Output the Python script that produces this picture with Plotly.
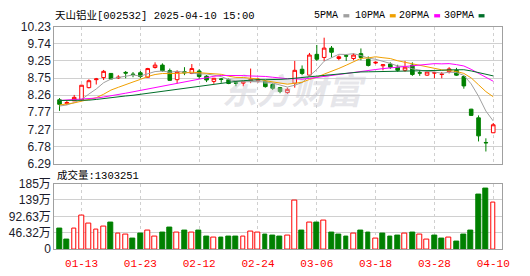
import plotly.graph_objects as go
import pandas as pd

# ---------------- data ----------------
dates = ['2025-01-08','2025-01-09','2025-01-10','2025-01-13','2025-01-14','2025-01-15','2025-01-16',
         '2025-01-17','2025-01-20','2025-01-21','2025-01-22','2025-01-23','2025-01-24','2025-01-27',
         '2025-02-05','2025-02-06','2025-02-07','2025-02-10','2025-02-11','2025-02-12','2025-02-13',
         '2025-02-14','2025-02-17','2025-02-18','2025-02-19','2025-02-20','2025-02-21','2025-02-24',
         '2025-02-25','2025-02-26','2025-02-27','2025-02-28','2025-03-03','2025-03-04','2025-03-05',
         '2025-03-06','2025-03-07','2025-03-10','2025-03-11','2025-03-12','2025-03-13','2025-03-14',
         '2025-03-17','2025-03-18','2025-03-19','2025-03-20','2025-03-21','2025-03-24','2025-03-25',
         '2025-03-26','2025-03-27','2025-03-28','2025-03-31','2025-04-01','2025-04-02','2025-04-03',
         '2025-04-07','2025-04-08','2025-04-09','2025-04-10']

opens  = [8.13, 8.02, 8.10, 8.13, 8.48, 8.71, 8.77, 8.89, 8.76, 8.92,
          8.87, 8.91, 8.78, 9.06, 9.13, 8.97, 8.71, 8.94, 8.89, 8.96,
          8.81, 8.66, 8.73, 8.71, 8.62, 8.61, 8.68, 8.68, 8.66, 8.57,
          8.48, 8.34, 8.61, 9.01, 8.84, 9.44, 9.35, 9.62, 9.32, 9.40,
          9.32, 9.46, 9.30, 9.19, 9.11, 9.16, 9.07, 8.98, 9.13, 8.91,
          8.84, 8.90, 8.86, 8.94, 8.98, 8.80, 7.86, 7.61, 6.90, 7.18]
highs  = [8.18, 8.10, 8.27, 8.56, 8.72, 8.76, 8.99, 8.90, 8.84, 8.96,
          8.93, 8.96, 9.05, 9.21, 9.18, 9.03, 8.98, 9.07, 9.16, 9.01,
          8.84, 8.76, 8.76, 8.74, 8.66, 8.66, 9.03, 8.76, 8.70, 8.61,
          8.50, 8.48, 9.25, 9.12, 9.48, 9.71, 9.92, 9.68, 9.41, 9.45,
          9.47, 9.61, 9.38, 9.24, 9.16, 9.21, 9.14, 9.25, 9.21, 8.99,
          8.95, 8.93, 8.93, 9.07, 9.05, 8.84, 7.87, 7.68, 7.02, 7.46]
lows   = [7.81, 7.98, 8.09, 8.11, 8.46, 8.57, 8.70, 8.72, 8.73, 8.75,
          8.78, 8.75, 8.77, 9.03, 8.94, 8.68, 8.60, 8.84, 8.87, 8.73,
          8.64, 8.59, 8.62, 8.58, 8.52, 8.52, 8.61, 8.62, 8.48, 8.41,
          8.32, 8.30, 8.48, 8.84, 8.80, 9.25, 9.25, 9.35, 9.27, 9.25,
          9.27, 9.27, 9.09, 9.16, 8.98, 9.02, 8.94, 8.94, 8.82, 8.82,
          8.82, 8.75, 8.75, 8.89, 8.82, 8.45, 7.67, 6.93, 6.64, 7.17]
closes = [8.00, 8.05, 8.20, 8.55, 8.68, 8.73, 8.95, 8.73, 8.78, 8.90,
          8.86, 8.80, 9.03, 9.13, 8.97, 8.69, 8.94, 8.91, 9.03, 8.80,
          8.70, 8.75, 8.72, 8.60, 8.61, 8.66, 8.72, 8.72, 8.51, 8.46,
          8.37, 8.43, 8.98, 8.89, 9.42, 9.30, 9.62, 9.50, 9.37, 9.39,
          9.42, 9.35, 9.12, 9.21, 9.14, 9.07, 8.98, 9.07, 8.86, 8.90,
          8.93, 8.91, 8.87, 9.02, 8.84, 8.53, 7.68, 7.09, 6.89, 7.41]
# volume in 万 (10k)
volumes = [57, 27, 59, 96, 72.5, 56, 63.6, 75, 45, 42,
           29.5, 45, 53, 34, 48, 62, 47.5, 51, 47.5, 51,
           35, 31.4, 32, 35, 35, 35, 50, 47.5, 40, 37.6,
           35, 39.4, 136, 53.7, 74, 75, 82, 48, 40, 35,
           44, 51, 48, 29.5, 43, 35, 37.6, 45, 48, 40,
           27, 37.6, 29.5, 32, 21.5, 40, 51, 153, 172, 130.3251]
vol_up = [0, 0, 1, 1, 1, 1, 1, 0, 1, 1,
          0, 0, 1, 1, 0, 0, 1, 0, 1, 0,
          0, 1, 0, 0, 0, 1, 1, 1, 0, 0,
          0, 1, 1, 0, 1, 0, 1, 0, 0, 0,
          1, 0, 0, 1, 0, 0, 0, 1, 0, 1,
          1, 0, 0, 1, 0, 0, 0, 0, 0, 1]

# moving-average values before a full window exists
ma5_lead = [7.95, 7.98, 8.05, 8.14]
ma10_lead = [7.98, 8.00, 8.04, 8.09, 8.14, 8.19, 8.29, 8.41, 8.49]
ma20_lead = [8.11, 8.12, 8.13, 8.14, 8.16, 8.18, 8.21, 8.24, 8.28, 8.32,
             8.36, 8.40, 8.44, 8.48, 8.52, 8.56, 8.60, 8.64, 8.69]
ma30_lead = [8.11, 8.11, 8.11, 8.11, 8.12, 8.14, 8.17, 8.20, 8.22, 8.24,
             8.26, 8.29, 8.32, 8.35, 8.38, 8.41, 8.44, 8.47, 8.49, 8.51,
             8.54, 8.58, 8.61, 8.635, 8.66, 8.68, 8.70, 8.71, 8.71]

price_ticks = [6.29, 6.78, 7.27, 7.77, 8.26, 8.75, 9.25, 9.74, 10.23]
vol_ticks = [0, 46.32, 92.63, 139, 185]
vol_tick_text = ['0', '46.32万', '92.63万', '139万', '185万']
date_ticks = ['01-13', '01-23', '02-12', '02-24', '03-06', '03-18', '03-28', '04-10']
ma_names = ['5PMA', '10PMA', '20PMA', '30PMA']
ma_colors = ['#a0a0a0', '#f0a000', '#ff00ff', '#006f2a']
title_text = '天山铝业[002532] 2025-04-10 15:00'

# ---------------- derived ----------------
x = list(range(len(dates)))
tick_idx = [i for i, d in enumerate(dates) if d[5:] in date_ticks]


def ma(n, lead):
    s = pd.Series(closes).rolling(n).mean().tolist()
    return lead + s[len(lead):]


mas = [ma(5, ma5_lead), ma(10, ma10_lead), ma(20, ma20_lead), ma(30, ma30_lead)]

W, H = 530, 276
px = lambda v: v / W
py = lambda v: 1 - v / H
RED, GREEN = '#ff0000', '#008000'

fig = go.Figure()

# watermark (behind the lines)
fig.add_trace(go.Scatter(
    x=[31.6], y=[8.27], mode='text', text=['东方财富'],
    textfont=dict(family='Noto Sans CJK SC', size=35, color='rgba(200,200,208,0.45)',
                  weight='bold', style='italic'),
    hoverinfo='skip', xaxis='x', yaxis='y'))

fig.add_trace(go.Candlestick(
    x=x, open=opens, high=highs, low=lows, close=closes,
    increasing=dict(line=dict(color=RED, width=1), fillcolor='#ffffff'),
    decreasing=dict(line=dict(color=GREEN, width=1), fillcolor=GREEN),
    whiskerwidth=0, xaxis='x', yaxis='y', hoverinfo='skip'))

for vals, col in zip(mas, ma_colors):
    fig.add_trace(go.Scatter(x=x, y=vals, mode='lines', line=dict(color=col, width=1),
                             xaxis='x', yaxis='y', hoverinfo='skip'))

fig.add_trace(go.Bar(
    x=x, y=volumes, width=0.66,
    marker=dict(color=['#ffffff' if u else GREEN for u in vol_up],
                line=dict(color=[RED if u else GREEN for u in vol_up], width=1)),
    xaxis='x2', yaxis='y2', hoverinfo='skip'))

xr = [-0.711, 60.23]
grid = '#d0d0d0'
border = '#a0a0a0'
yfont = dict(family='Liberation Sans, Arial, Noto Sans CJK SC', size=12, color='#1a1a2a')

common_x = dict(domain=[px(55), px(509)], range=xr, tickvals=tick_idx, showgrid=True,
                gridcolor=grid, griddash='3px,3px', gridwidth=1, showline=True, mirror=True,
                linecolor=border, linewidth=1, zeroline=False, ticks='', fixedrange=True)

fig.update_layout(
    width=W, height=H, margin=dict(l=0, r=0, t=0, b=0),
    paper_bgcolor='white', plot_bgcolor='white', showlegend=False,
    font=dict(family='Liberation Sans, Noto Sans CJK SC', size=12, color='#000'),
    xaxis=dict(**common_x, anchor='y', showticklabels=False, rangeslider=dict(visible=False)),
    yaxis=dict(domain=[py(165), py(21)], range=[price_ticks[0], price_ticks[-1]],
               tickvals=price_ticks, ticktext=[f'{v:.2f}' for v in price_ticks],
               showgrid=True, gridcolor=grid, showline=True, mirror=True, linecolor=border,
               zeroline=False, ticks='', tickfont=yfont, anchor='x'),
    xaxis2=dict(**common_x, anchor='y2', ticktext=date_ticks, showticklabels=True,
                tickfont=dict(family='Liberation Mono, monospace', size=11, color=RED),
                ticklabelstandoff=4),
    yaxis2=dict(domain=[py(255), py(186)], range=[0, 185.26], tickvals=vol_ticks,
                ticktext=vol_tick_text, showgrid=True, gridcolor=grid, showline=True,
                mirror=True, linecolor=border, zeroline=False, ticks='', tickfont=yfont,
                anchor='x2'),
    bargap=0,
)

mono = 'Liberation Mono, Noto Sans CJK SC'
ann = [dict(x=px(54), y=py(9), xref='paper', yref='paper', xanchor='left', yanchor='middle',
            text=title_text, showarrow=False, font=dict(family=mono, size=10.5, color='#000')),
       dict(x=px(56), y=py(178), xref='paper', yref='paper', xanchor='left', yanchor='middle',
            text='成交量:' + str(int(round(volumes[-1] * 10000))), showarrow=False,
            font=dict(family=mono, size=10.5, color='#000'))]
shapes = []
leg_text_right = [345, 392, 437, 482]
for name, col, xr_ in zip(ma_names, ma_colors, leg_text_right):
    ann.append(dict(x=px(xr_), y=py(9), xref='paper', yref='paper', xanchor='right',
                    yanchor='middle', text=name, showarrow=False,
                    font=dict(family='Liberation Mono, monospace', size=10, color='#000')))
    shapes.append(dict(type='rect', xref='paper', yref='paper', x0=px(xr_ + 3), x1=px(xr_ + 9),
                       y0=py(11), y1=py(7.5), fillcolor=col, line=dict(width=0)))
fig.update_layout(annotations=ann, shapes=shapes)

fig.write_html('out.html')
